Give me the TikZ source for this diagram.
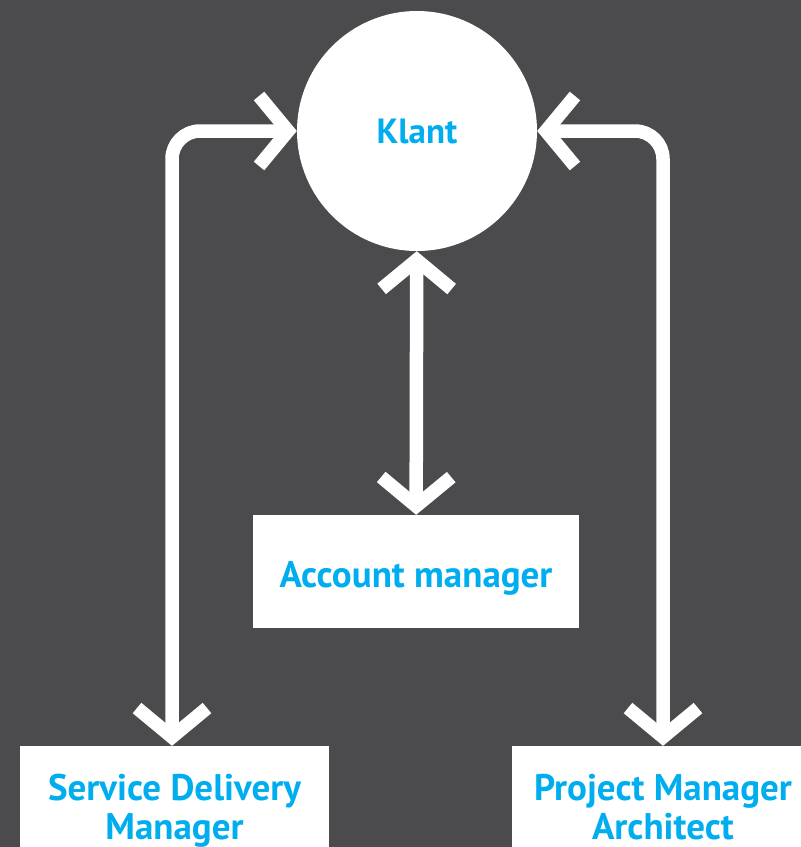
\documentclass[tikz,border=0pt]{standalone}
\usepackage{fontspec}
\setmainfont{PT Sans}
\usetikzlibrary{arrows.meta,positioning}
\definecolor{bggray}{HTML}{4B4B4D}
\definecolor{klantblue}{HTML}{00AEEF}
\tikzset{
  box/.style={fill=white, text=klantblue, font=\bfseries\fontsize{37}{39}\selectfont, align=center, inner sep=0pt},
  link/.style={draw=white, line width=13.5pt, rounded corners=28pt,
    {Straight Barb[length=29pt,width=70pt]}-{Straight Barb[length=29pt,width=70pt]}}
}
\begin{document}
\begin{tikzpicture}[x=1pt,y=-1pt]
% Background
\fill[bggray] (0,0) rectangle (801,847);
\useasboundingbox (0,0) rectangle (801,847);

% Nodes
\node[box, circle, minimum size=240pt, font=\bfseries\fontsize{35}{39}\selectfont] (klant) at (417,131) {Klant};
\node[box, minimum width=326pt, minimum height=113pt, text height=31pt, text depth=0pt] (account) at (416,571.5) {Account manager};
\node[box, minimum width=309pt, minimum height=131.4pt] (sdm) at (174.5,811.7) {\strut Service Delivery\\\strut Manager};
\node[box, minimum width=302pt, minimum height=131.4pt] (pma) at (663,811.7) {\strut Project Manager\\\strut Architect};

% Links
\draw[link] (klant) -- (account);
\draw[link] (klant.west) -| ([xshift=-2.5pt]sdm.north);
\draw[link] (klant.east) -| (pma.north);

\end{tikzpicture}
\end{document}
